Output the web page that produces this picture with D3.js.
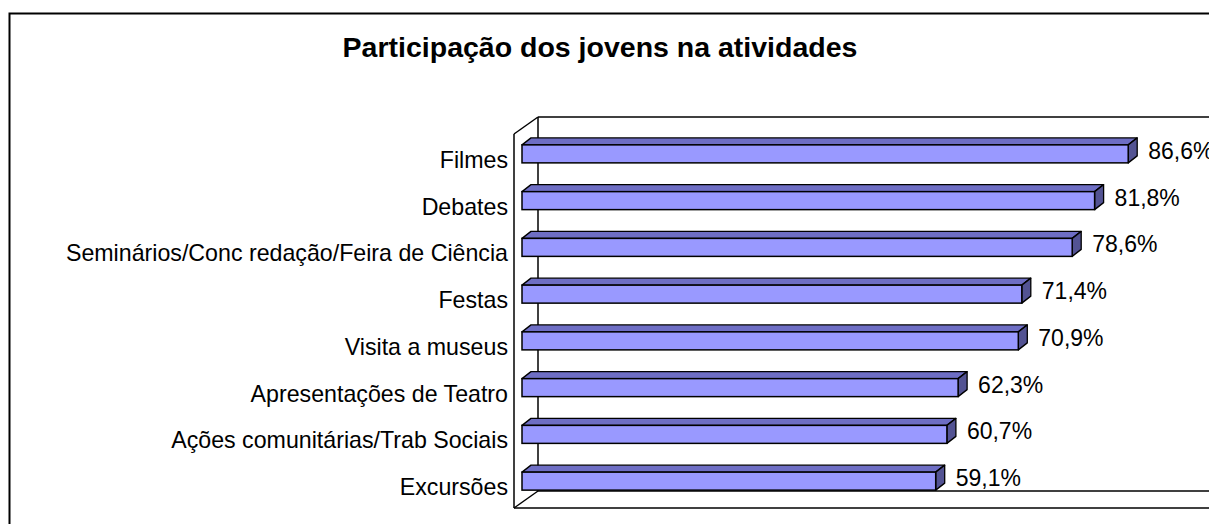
<!DOCTYPE html>
<html>
<head>
<meta charset="utf-8">
<script src="https://cdn.jsdelivr.net/npm/d3@7"></script>
<style>
  html, body { margin: 0; padding: 0; background: #fff; }
  svg { display: block; font-family: Arial, "Liberation Sans", sans-serif; }
</style>
</head>
<body>
<svg id="chart" width="1209" height="524"></svg>
<script>
const title = "Participação dos jovens na atividades";
const categories = [
  "Filmes",
  "Debates",
  "Seminários/Conc redação/Feira de Ciência",
  "Festas",
  "Visita a museus",
  "Apresentações de Teatro",
  "Ações comunitárias/Trab Sociais",
  "Excursões"
];
const values = [86.6, 81.8, 78.6, 71.4, 70.9, 62.3, 60.7, 59.1];
const valueLabels = ["86,6%", "81,8%", "78,6%", "71,4%", "70,9%", "62,3%", "60,7%", "59,1%"];

const svg = d3.select("#chart");
const W = 1209, H = 524;

// outer chart border
svg.append("rect")
  .attr("x", 9.5).attr("y", 13.5)
  .attr("width", W + 20).attr("height", H + 20)
  .attr("fill", "#fff").attr("stroke", "#000").attr("stroke-width", 2);

// title
svg.append("text")
  .attr("x", 600).attr("y", 57)
  .attr("text-anchor", "middle")
  .attr("font-weight", "bold")
  .attr("font-size", 28.5)
  .attr("fill", "#000")
  .text(title);

// 3D geometry
const DX = 24, DY = 17;          // wall depth
const frontLeft = 514, frontTop = 134, frontBottom = 508;
const bDX = 9, bDY = 7;          // bar depth
const barH = 18;

const x = d3.scaleLinear().domain([0, 100]).range([522, 1222]);
const y = d3.scaleBand().domain(categories).range([130.5, 504.5]);
const yc = c => y(c) + y.bandwidth() / 2;

const g = svg.append("g");
const line = (x1, y1, x2, y2, w) => g.append("line")
  .attr("x1", x1).attr("y1", y1).attr("x2", x2).attr("y2", y2)
  .attr("stroke", "#000").attr("stroke-width", w || 1.5);

// back wall and floor
line(frontLeft + DX, frontTop - DY, W + 50, frontTop - DY);
line(frontLeft + DX, frontTop - DY, frontLeft + DX, frontBottom - DY);
line(frontLeft + DX, frontBottom - DY, W + 50, frontBottom - DY);
// side wall / front edges
line(frontLeft, frontTop, frontLeft + DX, frontTop - DY);
line(frontLeft, frontBottom, frontLeft + DX, frontBottom - DY);
line(frontLeft, frontTop, frontLeft, frontBottom);
line(frontLeft, frontBottom, W + 50, frontBottom);

// bars
const bars = g.selectAll("g.bar").data(categories).enter().append("g").attr("class", "bar");
bars.each(function (c, i) {
  const sel = d3.select(this);
  const x0 = x(0), x1 = x(values[i]);
  const top = yc(c) - barH / 2, bot = yc(c) + barH / 2;
  // top face
  sel.append("path")
    .attr("d", `M${x0},${top} L${x0 + bDX},${top - bDY} L${x1 + bDX},${top - bDY} L${x1},${top} Z`)
    .attr("fill", "#6E6EC4").attr("stroke", "#000").attr("stroke-width", 1.3).attr("stroke-linejoin", "round");
  // side face
  sel.append("path")
    .attr("d", `M${x1},${top} L${x1 + bDX},${top - bDY} L${x1 + bDX},${bot - bDY} L${x1},${bot} Z`)
    .attr("fill", "#535393").attr("stroke", "#000").attr("stroke-width", 1.3).attr("stroke-linejoin", "round");
  // front face
  sel.append("rect")
    .attr("x", x0).attr("y", top).attr("width", x1 - x0).attr("height", barH)
    .attr("fill", "#9999FF").attr("stroke", "#000").attr("stroke-width", 1.5);
  // value label
  sel.append("text")
    .attr("x", x1 + bDX + 11).attr("y", yc(c) - 3)
    .attr("dominant-baseline", "central")
    .attr("font-size", 23).attr("fill", "#000")
    .text(valueLabels[i]);
});

// category labels
g.selectAll("text.cat").data(categories).enter().append("text")
  .attr("class", "cat")
  .attr("x", 508)
  .attr("y", c => yc(c) + 6)
  .attr("text-anchor", "end")
  .attr("dominant-baseline", "central")
  .attr("font-size", 23.2).attr("fill", "#000")
  .text(c => c);
</script>
</body>
</html>
